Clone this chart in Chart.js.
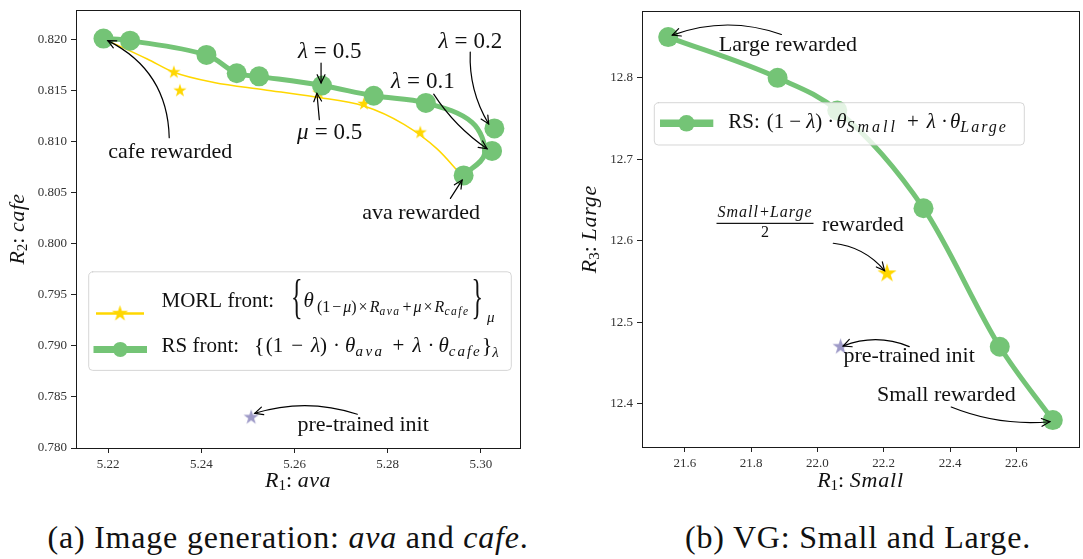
<!DOCTYPE html>
<html><head><meta charset="utf-8">
<script src="https://cdn.jsdelivr.net/npm/chart.js@4.4.1/dist/chart.umd.min.js"></script>
<style>
html,body{margin:0;padding:0;background:#fff;}
body{width:1083px;height:559px;overflow:hidden;position:relative;}
canvas{position:absolute;top:0;}
#ca{left:0;}
#cb{left:560px;}
.cap{position:absolute;top:518px;height:38px;line-height:38px;font-family:"Liberation Serif","DejaVu Serif",serif;font-size:32px;letter-spacing:0.8px;color:#111;white-space:nowrap;text-align:center;}
#capa{left:0;width:576px;}
#capb{left:658px;width:400px;}
</style></head><body>
<canvas id="ca" width="560" height="500"></canvas>
<canvas id="cb" width="530" height="500"></canvas>
<div class="cap" id="capa">(a) Image generation: <i>ava</i> and <i>cafe</i>.</div>
<div class="cap" id="capb">(b) VG: Small and Large.</div>
<script>
// ---------- data: panel (a) image generation ----------
const avaTicks  = [5.22, 5.24, 5.26, 5.28, 5.30];
const cafeTicks = [0.780, 0.785, 0.790, 0.795, 0.800, 0.805, 0.810, 0.815, 0.820];
const rsLambda  = [1.0, 0.9, 0.8, 0.7, 0.6, 0.5, 0.4, 0.3, 0.2, 0.1, 0.0];
const rsAva     = [5.2190, 5.2247, 5.2411, 5.2476, 5.2524, 5.2659, 5.2770, 5.2882, 5.3029, 5.3024, 5.2963];
const rsCafe    = [0.8201, 0.8199, 0.8185, 0.8167, 0.8164, 0.8155, 0.8145, 0.8138, 0.8113, 0.8091, 0.8067];
const rsCurveAva  = [5.2190, 5.2247, 5.2411, 5.2476, 5.2524, 5.2659, 5.2770, 5.2882, 5.2981, 5.3008, 5.2963];
const rsCurveCafe = [0.8201, 0.8199, 0.8185, 0.8167, 0.8164, 0.8155, 0.8145, 0.8138, 0.8119, 0.8088, 0.8067];
const morlAva   = [5.2341, 5.2354, 5.2652, 5.2749, 5.2870];
const morlCafe  = [0.8168, 0.8150, 0.8148, 0.8137, 0.8109];
const morlCurveAva  = [5.2190, 5.2284, 5.2341, 5.2427, 5.2534, 5.2642, 5.2749, 5.2835, 5.2906, 5.2955];
const morlCurveCafe = [0.8201, 0.8181, 0.8168, 0.8158, 0.8151, 0.8144, 0.8135, 0.8117, 0.8093, 0.8069];
const initAva   = [5.2507];
const initCafe  = [0.7830];
// ---------- data: panel (b) VG ----------
const smallTicks  = [21.6, 21.8, 22.0, 22.2, 22.4, 22.6];
const largeTicks  = [12.4, 12.5, 12.6, 12.7, 12.8];
const vgSmall     = [21.55, 21.88, 22.06, 22.32, 22.55, 22.71];
const vgLarge     = [12.85, 12.80, 12.76, 12.64, 12.47, 12.38];
const avgSmall    = [22.21];
const avgLarge    = [12.56];
const vgInitSmall = [22.07];
const vgInitLarge = [12.47];

// ---------- styles ----------
const GREEN = '#74c476', GOLD = '#ffd700', PURPLE = '#9e9ac8', TEXT = '#111';
const SERIF = '"Liberation Serif","DejaVu Serif",serif';
const xy = (xs, ys) => xs.map((x, i) => ({x: x, y: ys[i]}));

function starCanvas(r, color) {
  const s = Math.ceil(2 * r + 2), c = document.createElement('canvas');
  c.width = c.height = s;
  const g = c.getContext('2d');
  g.fillStyle = color; g.beginPath();
  for (let i = 0; i < 10; i++) {
    const rr = i % 2 ? r * 0.382 : r, a = -Math.PI / 2 + i * Math.PI / 5;
    g.lineTo(s / 2 + rr * Math.cos(a), s / 2 + rr * Math.sin(a));
  }
  g.closePath(); g.fill();
  return c;
}
const starA = starCanvas(7, GOLD), initA = starCanvas(8, PURPLE), starLeg = starCanvas(8.5, GOLD);
const starB = starCanvas(10, GOLD), initB = starCanvas(8.5, PURPLE);

function fontOf(s) { return (s.it ? 'italic ' : '') + (s.sz || 21) + 'px ' + SERIF; }
function segW(ctx, s) {
  if (s.sp !== undefined) return s.sp;
  ctx.font = fontOf(s); ctx.letterSpacing = (s.ls || 0) + 'px';
  const w = ctx.measureText(s.t).width * (s.sx || 1);
  ctx.letterSpacing = '0px';
  return w;
}
function drawRich(ctx, x, y, segs, center) {
  let tw = 0; for (const s of segs) tw += segW(ctx, s);
  let cx = center ? x - tw / 2 : x;
  ctx.textAlign = 'left'; ctx.textBaseline = 'alphabetic';
  for (const s of segs) {
    const w = segW(ctx, s);
    if (s.sp === undefined) {
      ctx.font = fontOf(s); ctx.letterSpacing = (s.ls || 0) + 'px';
      ctx.save(); ctx.translate(cx, y + (s.dy || 0)); if (s.sx) ctx.scale(s.sx, 1);
      ctx.fillText(s.t, 0, 0); ctx.restore();
      ctx.letterSpacing = '0px';
    }
    cx += w;
  }
}
function arrow(ctx, x0, y0, x1, y1, rad) {
  const mx = (x0 + x1) / 2, my = (y0 + y1) / 2, dx = x1 - x0, dy = y1 - y0;
  const cx = mx + rad * dy, cy = my - rad * dx;
  ctx.strokeStyle = '#000'; ctx.lineWidth = 1.2; ctx.lineCap = 'round';
  ctx.beginPath(); ctx.moveTo(x0, y0); ctx.quadraticCurveTo(cx, cy, x1, y1); ctx.stroke();
  const ang = Math.atan2(y1 - cy, x1 - cx), L = 9, w = 0.45;
  ctx.beginPath();
  ctx.moveTo(x1 - L * Math.cos(ang - w), y1 - L * Math.sin(ang - w));
  ctx.lineTo(x1, y1);
  ctx.lineTo(x1 - L * Math.cos(ang + w), y1 - L * Math.sin(ang + w));
  ctx.stroke();
}
function legendBox(ctx, x, y, w, h, r) {
  ctx.beginPath(); ctx.moveTo(x + r, y);
  ctx.arcTo(x + w, y, x + w, y + h, r); ctx.arcTo(x + w, y + h, x, y + h, r);
  ctx.arcTo(x, y + h, x, y, r); ctx.arcTo(x, y, x + w, y, r); ctx.closePath();
  ctx.fillStyle = 'rgba(255,255,255,0.8)'; ctx.fill();
  ctx.strokeStyle = 'rgba(204,204,204,0.8)'; ctx.lineWidth = 1; ctx.stroke();
}
function hline(ctx, x0, x1, y, color, lw) {
  ctx.strokeStyle = color; ctx.lineWidth = lw; ctx.lineCap = 'butt';
  ctx.beginPath(); ctx.moveTo(x0, y); ctx.lineTo(x1, y); ctx.stroke();
}
function dot(ctx, x, y, r, color) { ctx.fillStyle = color; ctx.beginPath(); ctx.arc(x, y, r, 0, 2 * Math.PI); ctx.fill(); }
function mathEq(sym, val) { return [{t: sym, it: 1, sz: 23}, {sp: 6}, {t: '=', sz: 23}, {sp: 6}, {t: val, sz: 23}]; }
function plain(t) { return [{t: t, sz: 22}]; }

function drawNote(ctx, xs, ys, n) {
  const px = v => xs.getPixelForValue(v), py = v => ys.getPixelForValue(v);
  if (n.from) arrow(ctx, px(n.from[0]), py(n.from[1]), px(n.to[0]), py(n.to[1]), n.rad || 0);
  const tx = px(n.at[0]), ty = py(n.at[1]);
  ctx.fillStyle = TEXT;
  if (n.frac) {
    drawRich(ctx, tx, ty - 6, [{t: 'Small', it: 1, sz: 16, ls: 1}, {sp: 1}, {t: '+', sz: 16}, {sp: 1}, {t: 'Large', it: 1, sz: 16, ls: 1}], true);
    ctx.fillRect(tx - 48.5, ty - 0.6, 97, 1.2);
    drawRich(ctx, tx, ty + 14, [{t: '2', sz: 16}], true);
    drawRich(ctx, tx + 57, ty + 7.5, plain('rewarded'), false);
  } else {
    drawRich(ctx, tx, ty + n.bl, n.segs, true);
  }
}

function axis(min, max, ticks, dec, fit) {
  return {
    type: 'linear', min: min, max: max,
    afterBuildTicks: s => { s.ticks = ticks.map(v => ({value: v})); },
    afterFit: fit,
    grid: {display: true, drawOnChartArea: false, drawTicks: true, tickLength: 5, tickColor: '#222', tickWidth: 1},
    border: {display: false},
    ticks: {font: {family: SERIF, size: 13}, color: '#333', padding: 4, maxRotation: 0, autoSkip: false,
            callback: v => Number(v).toFixed(dec)},
    title: {display: false}
  };
}
function panel(cfg) {
  return {
    id: 'panel' + cfg.id,
    afterDatasetsDraw(chart) {
      const {ctx, chartArea: a, scales: {x, y}} = chart;
      ctx.save();
      ctx.strokeStyle = '#1a1a1a'; ctx.lineWidth = 1;
      ctx.strokeRect(Math.round(a.left) + 0.5, Math.round(a.top) + 0.5, Math.round(a.right - a.left), Math.round(a.bottom - a.top));
      for (const n of cfg.notes) drawNote(ctx, x, y, n);
      cfg.legend(ctx);
      ctx.fillStyle = TEXT;
      cfg.titles(ctx, a);
      ctx.restore();
    }
  };
}

// ---------- panel (a) ----------
const notesA = [
  {segs: plain('cafe rewarded'), bl: 7.5, at: [5.23333, 0.80910], from: [5.23311, 0.81039], to: [5.21993, 0.81990], rad: -0.3},
  {segs: mathEq('λ', '0.5'), bl: 8, at: [5.26756, 0.81894], from: [5.2657, 0.81771], to: [5.2657, 0.81577], rad: 0},
  {segs: mathEq('μ', '0.5'), bl: 8, at: [5.26756, 0.81103], from: [5.26533, 0.81216], to: [5.26481, 0.81474], rad: 0},
  {segs: mathEq('λ', '0.1'), bl: 8, at: [5.28756, 0.81603], from: [5.28988, 0.81466], to: [5.30133, 0.80931], rad: -0.1},
  {segs: mathEq('λ', '0.2'), bl: 8, at: [5.29775, 0.82000], from: [5.29772, 0.81878], to: [5.30167, 0.81174], rad: -0.15},
  {segs: plain('ava rewarded'), bl: 7.5, at: [5.28719, 0.80313], from: [5.29346, 0.80445], to: [5.29597, 0.80624], rad: 0},
  {segs: plain('pre-trained init'), bl: 5.5, at: [5.27474, 0.78217], from: [5.27348, 0.78331], to: [5.25148, 0.78340], rad: -0.16}
];
function legendA(ctx) {
  legendBox(ctx, 88.7, 271.8, 422.6, 98.6, 4);
  hline(ctx, 96, 144, 313.6, GOLD, 2.5);
  ctx.drawImage(starLeg, 120 - starLeg.width / 2, 313.6 - starLeg.height / 2);
  hline(ctx, 93.5, 147, 349.4, GREEN, 7);
  dot(ctx, 120.3, 349.4, 7.5, GREEN);
  ctx.fillStyle = TEXT;
  const s = 16, ss = 11.5;
  drawRich(ctx, 161.5, 307, [
    {t: 'MORL front:', sz: 21}, {sp: 17}, {t: '{', sz: 48, sx: 0.5, dy: 6}, {sp: 1},
    {t: 'θ', it: 1, sz: 21}, {sp: 3},
    {t: '(1', sz: s, dy: 5}, {sp: 2}, {t: '−', sz: s, dy: 5}, {sp: 2}, {t: 'μ', it: 1, sz: s, dy: 5}, {t: ')', sz: s, dy: 5},
    {sp: 2}, {t: '×', sz: s, dy: 5}, {sp: 2}, {t: 'R', it: 1, sz: s, dy: 5}, {t: 'ava', it: 1, sz: ss, ls: 1.5, dy: 8},
    {sp: 2}, {t: '+', sz: s, dy: 5}, {sp: 2}, {t: 'μ', it: 1, sz: s, dy: 5}, {sp: 2}, {t: '×', sz: s, dy: 5}, {sp: 2},
    {t: 'R', it: 1, sz: s, dy: 5}, {t: 'cafe', it: 1, sz: ss, ls: 1.5, dy: 8},
    {sp: 2}, {t: '}', sz: 48, sx: 0.5, dy: 6}, {sp: 4}, {t: 'μ', it: 1, sz: 15, dy: 15}
  ], false);
  drawRich(ctx, 161.5, 352, [
    {t: 'RS front:', sz: 21}, {sp: 15}, {t: '{', sz: 22}, {sp: 1},
    {t: '(1', sz: 21}, {sp: 8}, {t: '−', sz: 21}, {sp: 8}, {t: 'λ', it: 1, sz: 21}, {t: ')', sz: 21},
    {sp: 6}, {t: '·', sz: 21}, {sp: 5}, {t: 'θ', it: 1, sz: 21}, {t: 'ava', it: 1, sz: 15, ls: 2.5, dy: 4},
    {sp: 8}, {t: '+', sz: 21}, {sp: 8}, {t: 'λ', it: 1, sz: 21}, {sp: 6}, {t: '·', sz: 21}, {sp: 4},
    {t: 'θ', it: 1, sz: 21}, {t: 'cafe', it: 1, sz: 15, ls: 2, dy: 4}, {t: '}', sz: 22}, {t: 'λ', it: 1, sz: 15, dy: 5}
  ], false);
}
function titlesA(ctx, a) {
  drawRich(ctx, (a.left + a.right) / 2, 487, [{t: 'R', it: 1, sz: 22}, {t: '1', sz: 15, dy: 3}, {t: ': ', sz: 22}, {t: 'ava', it: 1, sz: 22, ls: 0.5}], true);
  ctx.save(); ctx.translate(24, (a.top + a.bottom) / 2); ctx.rotate(-Math.PI / 2);
  drawRich(ctx, 0, 0, [{t: 'R', it: 1, sz: 22}, {t: '2', sz: 15, dy: 3}, {t: ': ', sz: 22}, {t: 'cafe', it: 1, sz: 22, ls: 0.5}], true);
  ctx.restore();
}

new Chart(document.getElementById('ca'), {
  type: 'scatter',
  data: {datasets: [
    {label: 'RS front', data: xy(rsAva, rsCafe), pointRadius: 10, pointHoverRadius: 10, pointBackgroundColor: GREEN, pointBorderWidth: 0, showLine: false},
    {label: 'RS curve', data: xy(rsCurveAva, rsCurveCafe), showLine: true, borderColor: GREEN, borderWidth: 5, pointRadius: 0, tension: 0.35},
    {label: 'MORL front', data: xy(morlAva, morlCafe), pointStyle: starA, pointRadius: 7, showLine: false},
    {label: 'MORL curve', data: xy(morlCurveAva, morlCurveCafe), showLine: true, borderColor: GOLD, borderWidth: 1.5, pointRadius: 0, cubicInterpolationMode: 'monotone'},
    {label: 'pre-trained init', data: xy(initAva, initCafe), pointStyle: initA, pointRadius: 8, showLine: false}
  ]},
  options: {
    responsive: false, animation: false, devicePixelRatio: 1, events: [],
    layout: {padding: {left: 0, top: 7, right: 40, bottom: 0}},
    plugins: {legend: {display: false}, tooltip: {enabled: false}},
    scales: {
      x: axis(5.2131, 5.3084, avaTicks, 2, s => { s.height = 52; s.paddingLeft = 0; s.paddingRight = 0; }),
      y: axis(0.780, 0.8229, cafeTicks, 3, s => { s.width = 76; s.paddingTop = 0; s.paddingBottom = 0; })
    }
  },
  plugins: [panel({id: 'A', notes: notesA, legend: legendA, titles: titlesA})]
});

// ---------- panel (b) ----------
const notesB = [
  {segs: plain('Large rewarded'), bl: 5.5, at: [21.911, 12.8396], from: [21.8914, 12.8532], to: [21.5626, 12.8524], rad: -0.18},
  {frac: true, at: [21.842, 12.6214], from: [22.048, 12.597], to: [22.2026, 12.5634], rad: 0.2},
  {segs: plain('pre-trained init'), bl: 5.5, at: [22.2765, 12.458], from: [22.277, 12.4702], to: [22.0778, 12.4709], rad: -0.2},
  {segs: plain('Small rewarded'), bl: 7.5, at: [22.389, 12.4132], from: [22.4036, 12.396], to: [22.701, 12.378], rad: -0.12}
];
function legendB(ctx) {
  legendBox(ctx, 94.3, 102.7, 370, 42.3, 4);
  hline(ctx, 100, 153.3, 123.3, GREEN, 7.5);
  dot(ctx, 126.5, 123.3, 8.3, GREEN);
  ctx.fillStyle = TEXT;
  drawRich(ctx, 168.3, 128, [
    {t: 'RS:', sz: 21}, {sp: 7}, {t: '(1', sz: 21}, {sp: 5}, {t: '−', sz: 21}, {sp: 5}, {t: 'λ', it: 1, sz: 21}, {t: ')', sz: 21},
    {sp: 5}, {t: '·', sz: 21}, {sp: 2}, {t: 'θ', it: 1, sz: 21}, {t: 'Small', it: 1, sz: 16, ls: 3, dy: 4},
    {sp: 9}, {t: '+', sz: 21}, {sp: 8}, {t: 'λ', it: 1, sz: 21}, {sp: 5}, {t: '·', sz: 21}, {sp: 2},
    {t: 'θ', it: 1, sz: 21}, {t: 'Large', it: 1, sz: 16, ls: 2, dy: 4}
  ], false);
}
function titlesB(ctx, a) {
  drawRich(ctx, (a.left + a.right) / 2, 487, [{t: 'R', it: 1, sz: 22}, {t: '1', sz: 15, dy: 3}, {t: ': ', sz: 22}, {t: 'Small', it: 1, sz: 22, ls: 0.8}], true);
  ctx.save(); ctx.translate(36, (a.top + a.bottom) / 2); ctx.rotate(-Math.PI / 2);
  drawRich(ctx, 0, 0, [{t: 'R', it: 1, sz: 22}, {t: '3', sz: 15, dy: 3}, {t: ': ', sz: 22}, {t: 'Large', it: 1, sz: 22, ls: 0.8}], true);
  ctx.restore();
}

new Chart(document.getElementById('cb'), {
  type: 'scatter',
  data: {datasets: [
    {label: 'RS', data: xy(vgSmall, vgLarge), pointRadius: 10, pointHoverRadius: 10, pointBackgroundColor: GREEN, pointBorderWidth: 0, showLine: false},
    {label: 'RS curve', data: xy(vgSmall, vgLarge), showLine: true, borderColor: GREEN, borderWidth: 5, pointRadius: 0, cubicInterpolationMode: 'monotone'},
    {label: '(Small+Large)/2 rewarded', data: xy(avgSmall, avgLarge), pointStyle: starB, pointRadius: 10, showLine: false},
    {label: 'pre-trained init', data: xy(vgInitSmall, vgInitLarge), pointStyle: initB, pointRadius: 8, showLine: false}
  ]},
  options: {
    responsive: false, animation: false, devicePixelRatio: 1, events: [],
    layout: {padding: {left: 0, top: 2, right: 0, bottom: 0}},
    plugins: {legend: {display: false}, tooltip: {enabled: false}},
    scales: {
      x: axis(21.471, 22.789, smallTicks, 1, s => { s.height = 53; s.paddingLeft = 0; s.paddingRight = 0; }),
      y: axis(12.347, 12.882, largeTicks, 1, s => { s.width = 82; s.paddingTop = 0; s.paddingBottom = 0; })
    }
  },
  plugins: [panel({id: 'B', notes: notesB, legend: legendB, titles: titlesB})]
});
</script>
</body></html>
